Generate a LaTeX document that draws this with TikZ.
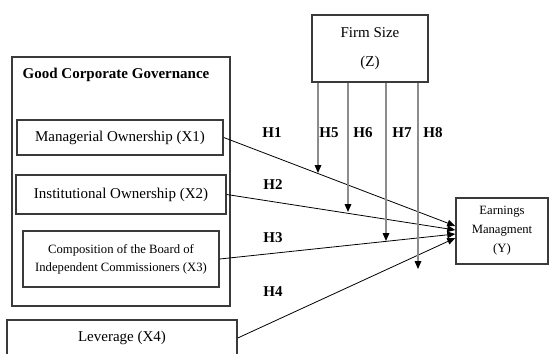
\documentclass[tikz,border=0pt]{standalone}
\usepackage{fontspec}
\setmainfont{Liberation Serif}
\usepackage{tikz}
\usetikzlibrary{arrows.meta,calc}
\definecolor{boxline}{HTML}{3A3A3A}
\definecolor{modline}{HTML}{8C8C8C}

\begin{document}
\begin{tikzpicture}[x=0.75pt,y=-0.75pt,every node/.style={align=center},
  outer/.style={draw=boxline,line width=1.1pt,inner sep=0pt},
  varbox/.style={draw=boxline,line width=1.1pt,inner sep=0pt,font=\fontsize{11.25}{14}\selectfont},
  smallbox/.style={draw=boxline,line width=1.1pt,inner sep=0pt,font=\fontsize{9.5}{13.5}\selectfont},
  hyp/.style={font=\fontsize{11.25}{14}\selectfont\bfseries,inner sep=0pt},
  effect/.style={line width=0.6pt,-{Triangle[length=6pt,width=5pt]}},
  moderate/.style={draw=modline,line width=0.9pt,-{Triangle[length=6pt,width=5pt,color=black]}}]
  \useasboundingbox (0,0) rectangle (552,353);
  \clip (0,0) rectangle (552,353);
  % independent variables
  \node[outer,minimum width=218*0.75pt,minimum height=249*0.75pt] (gcg) at (121,181.5) {};
  \node[hyp] (gcgtitle) at (116,75) {Good Corporate Governance};
  \node[varbox,minimum width=206*0.75pt,minimum height=35*0.75pt] (x1) at (120,137.5) {Managerial Ownership (X1)};
  \node[varbox,minimum width=210*0.75pt,minimum height=39*0.75pt] (x2) at (121,194.5) {Institutional Ownership (X2)};
  \node[smallbox,minimum width=196*0.75pt,minimum height=56*0.75pt] (x3) at (121,259) {Composition of the Board of\\Independent Commissioners (X3)};
  \node[varbox,minimum width=230*0.75pt,minimum height=36*0.75pt] (x4) at (122,338) {Leverage (X4)};
  % moderator and dependent variable
  \node[varbox,minimum width=116*0.75pt,minimum height=67*0.75pt,font=\fontsize{11.25}{21.75}\selectfont] (fs) at (370,48.5) {Firm Size\\(Z)};
  \node[smallbox,minimum width=92*0.75pt,minimum height=66*0.75pt,font=\fontsize{9.5}{14.25}\selectfont] (y) at (502,231) {Earnings\\Managment\\(Y)};
  % hypotheses
  \node[hyp] (h1) at (272,133) {H1};
  \node[hyp] (h2) at (273,185) {H2};
  \node[hyp] (h3) at (273,238) {H3};
  \node[hyp] (h4) at (273,292) {H4};
  \node[hyp] (h5) at (329,133) {H5};
  \node[hyp] (h6) at (363,133) {H6};
  \node[hyp] (h7) at (402,133) {H7};
  \node[hyp] (h8) at (433,133) {H8};
  \draw[effect] (x1.east) -- ($(y.west)+(0,-5)$);
  \draw[effect] (x2.east) -- ($(y.west)+(0,-1)$);
  \draw[effect] (x3.east) -- ($(y.west)+(0,3)$);
  \draw[effect] (x4.east) -- ($(y.west)+(0,7)$);
  \coordinate (m5) at (318,173);
  \coordinate (m6) at (348,212);
  \coordinate (m7) at (386,241);
  \coordinate (m8) at (418,269);
  \draw[moderate] (fs.south -| m5) -- (m5);
  \draw[moderate] (fs.south -| m6) -- (m6);
  \draw[moderate] (fs.south -| m7) -- (m7);
  \draw[moderate] (fs.south -| m8) -- (m8);
\end{tikzpicture}
\end{document}
